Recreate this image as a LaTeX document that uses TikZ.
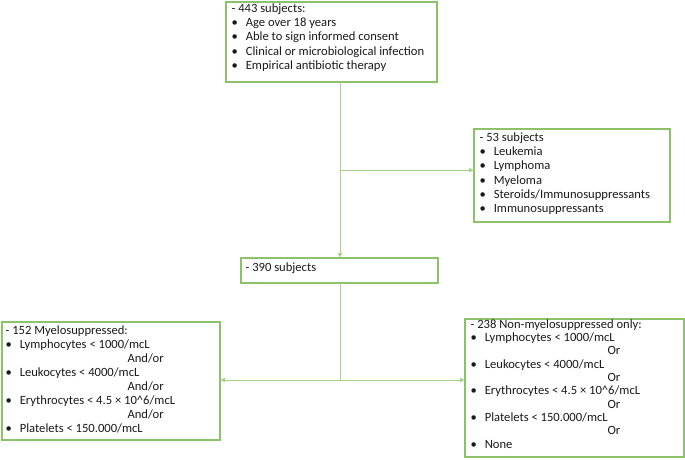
\documentclass[tikz,border=0pt]{standalone}
\usepackage{fontspec}
\setmainfont{Carlito}
\usetikzlibrary{arrows.meta}
\definecolor{gb}{RGB}{140,195,105}
\definecolor{gl}{RGB}{165,210,135}
\definecolor{tx}{RGB}{25,25,25}
\tikzset{
 box/.style={draw=gb,line width=1.1pt,anchor=north west,align=left,inner sep=0pt,font=\fontsize{12.6}{14.3}\selectfont,text=tx},
 conn/.style={draw=gl,line width=0.9pt,-{Latex[length=5pt,width=5pt]}},
 ln/.style={draw=gl,line width=0.9pt}
}
\newcommand{\bl}{\textbullet\hspace{8pt}}
\begin{document}
\begin{tikzpicture}[x=1pt,y=-1pt]
\useasboundingbox (0,0) rectangle (685,459);
\draw[box] (226,2) rectangle (437,82);
\node[box,anchor=north west,draw=none] (t) at (231,3) {- 443 subjects:\\ \bl Age over 18 years\\ \bl Able to sign informed consent\\ \bl Clinical or microbiological infection\\ \bl Empirical antibiotic therapy};
\coordinate (tb) at (340,82);
\draw[box] (474,129) rectangle (670,222);
\node[box,draw=none] (e) at (479,132) {- 53 subjects\\ \bl Leukemia\\ \bl Lymphoma\\ \bl Myeloma\\ \bl Steroids/Immunosuppressants\\ \bl Immunosuppressants};
\coordinate (el) at (474,170);
\draw[box] (241,258) rectangle (438,283);
\node[box,draw=none] (m) at (245,262) {- 390 subjects};
\coordinate (mt) at (340,258);
\coordinate (mb) at (340,283);
\draw[box] (2,322) rectangle (220,440);
\node[box,draw=none,font=\fontsize{12.6}{14}\selectfont] (l) at (5,325) {- 152 Myelosuppressed:\\ \bl Lymphocytes < 1000/mcL\\ \hspace*{122pt}And/or\\ \bl Leukocytes < 4000/mcL\\ \hspace*{122pt}And/or\\ \bl Erythrocytes < 4.5 × 10\^{}6/mcL\\ \hspace*{122pt}And/or\\ \bl Platelets < 150.000/mcL};
\coordinate (lr) at (220,380);
\draw[box] (465,319) rectangle (684,457);
\node[box,draw=none,font=\fontsize{12.6}{13.3}\selectfont] (r) at (470,319) {- 238 Non-myelosuppressed only:\\ \bl Lymphocytes < 1000/mcL\\ \hspace*{137pt}Or\\ \bl Leukocytes < 4000/mcL\\ \hspace*{137pt}Or\\ \bl Erythrocytes < 4.5 × 10\^{}6/mcL\\ \hspace*{137pt}Or\\ \bl Platelets < 150.000/mcL\\ \hspace*{137pt}Or\\ \bl None};
\coordinate (rl) at (465,380);
\coordinate (j1) at (340,170);
\coordinate (j2) at (340,380);
\draw[conn] (tb) -- (mt);
\draw[conn] (j1) -- (el);
\draw[ln] (mb) -- (j2);
\draw[conn] (j2) -- (lr);
\draw[conn] (j2) -- (rl);
\end{tikzpicture}
\end{document}
